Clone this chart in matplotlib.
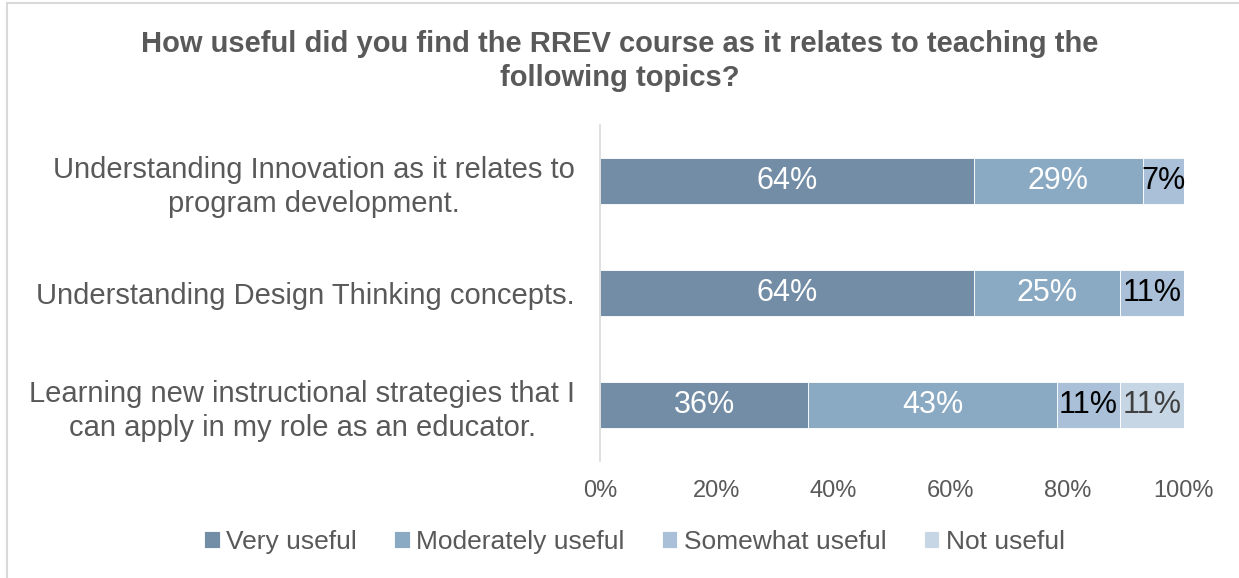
import numpy as np
import matplotlib
matplotlib.use('Agg')
import matplotlib.pyplot as plt
from matplotlib.patches import Rectangle

plt.rcParams['font.family'] = ['Liberation Sans', 'DejaVu Sans']

# survey topics, top to bottom
topics = ['Understanding Innovation as it relates to\nprogram development.',
          'Understanding Design Thinking concepts.',
          'Learning new instructional strategies that I\ncan apply in my role as an educator.']
series = ['Very useful', 'Moderately useful', 'Somewhat useful', 'Not useful']

very_useful = [64, 64, 36]
moderately_useful = [29, 25, 43]
somewhat_useful = [7, 11, 11]
not_useful = [0, 0, 11]

colors = ['#728da5', '#8aa9c3', '#a9c0d8', '#c6d6e4']
label_colors = ['white', 'white', 'black', '#404040']
text_gray = '#595959'

vals = np.array([very_useful, moderately_useful, somewhat_useful, not_useful], dtype=float)
# 100% stacked: scale each topic so its row sums to 1
shares = vals / vals.sum(axis=0)

fig = plt.figure(figsize=(12.39, 5.78), dpi=100)
ax = fig.add_axes([0.4843, 0.2024, 0.4713, 0.5813])

y = np.arange(len(topics))
left = np.zeros(len(topics))
for i, name in enumerate(series):
    ax.barh(y, shares[i], left=left, height=0.41, color=colors[i],
            label=name, edgecolor='white', linewidth=0.6)
    for j in range(len(topics)):
        if vals[i, j] > 0:
            ax.text(left[j] + shares[i, j] / 2, y[j], f'{int(vals[i, j])}%',
                    ha='center', va='center', fontsize=22, color=label_colors[i])
    left += shares[i]

ax.set_ylim(len(topics) - 0.5, -0.5)
ax.set_xlim(0, 1)
ax.set_xticks(np.linspace(0, 1, 6))
ax.set_xticklabels([f'{int(t)}%' for t in np.linspace(0, 100, 6)])
ax.set_yticks(y)
ax.set_yticklabels(topics, fontsize=21, color=text_gray, linespacing=1.25)
ax.tick_params(axis='x', labelsize=17, colors=text_gray, length=0, pad=14)
ax.tick_params(axis='y', length=0, pad=18)
for lbl in ax.get_yticklabels():
    lbl.set_multialignment('center')

for side in ['top', 'right', 'bottom']:
    ax.spines[side].set_visible(False)
ax.spines['left'].set_color('#d9d9d9')
ax.spines['left'].set_linewidth(1.2)

fig.text(0.5, 0.948, 'How useful did you find the RREV course as it relates to teaching the\nfollowing topics?',
         ha='center', va='top', fontsize=21, fontweight='bold', color=text_gray, linespacing=1.25)

leg = fig.legend(loc='center', bbox_to_anchor=(0.512, 0.063), ncol=4, frameon=False,
                 fontsize=19, handlelength=0.6, handleheight=0.6, handletextpad=0.25,
                 columnspacing=1.4)
for t in leg.get_texts():
    t.set_color(text_gray)

# chart area outline
fig.patches.append(Rectangle((7 / 1239, -0.1), 1.2, 1.1 - 3 / 578, transform=fig.transFigure,
                             fill=False, edgecolor='#d9d9d9', linewidth=1.5))

fig.savefig('out.png', dpi=100)
